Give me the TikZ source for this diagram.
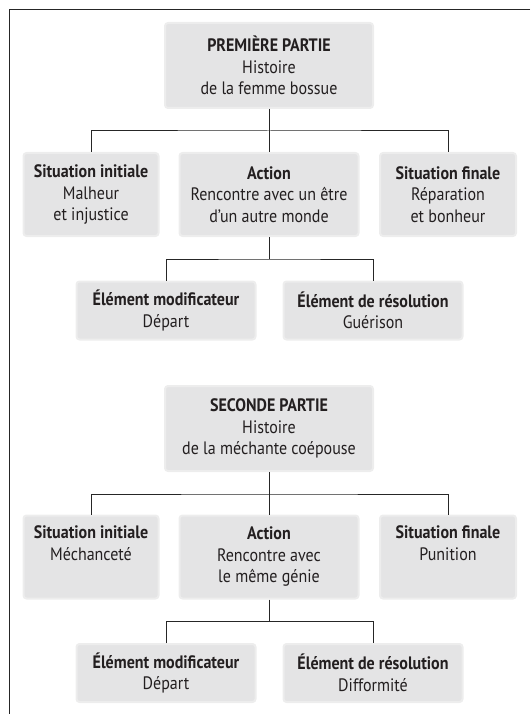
\documentclass[tikz,border=0pt]{standalone}
\usepackage{fontspec}
\setmainfont{PT Sans}[FakeStretch=0.89]
\begin{document}
\begin{tikzpicture}[x=1pt,y=-1pt,
  box/.style={rounded corners=3pt, fill=boxgray, draw=haloGray, line width=2pt,
    align=center, inner sep=0pt, font=\fontsize{18}{21.5}\selectfont, text=txt},
  link/.style={draw=black!85, line width=1pt}]
\definecolor{boxgray}{HTML}{E4E4E5}
\definecolor{haloGray}{HTML}{EDEDED}
\definecolor{txt}{HTML}{231F20}
\useasboundingbox (0,0) rectangle (530,714);
\draw[line width=1.3pt, draw=black!85] (530,9.5) -- (9.5,9.5) -- (9.5,714);

% ---------- Part 1
\node[box, minimum width=208, minimum height=85] (t1) at (269,65.5)
  {\textbf{PREMIÈRE PARTIE}\\Histoire\\de la femme bossue};
\node[box, minimum width=135, minimum height=83] (a1) at (91,194.5)
  {\textbf{Situation initiale}\\Malheur\\et injustice};
\node[box, minimum width=179, minimum height=83] (b1) at (269,194.5)
  {\textbf{Action}\\Rencontre avec un être\\d’un autre monde};
\node[box, minimum width=136, minimum height=83] (c1) at (448,194.5)
  {\textbf{Situation finale}\\Réparation\\et bonheur};
\node[box, minimum width=179, minimum height=58] (d1) at (166,310.5)
  {\textbf{Élément modificateur}\\Départ};
\node[box, minimum width=179, minimum height=58] (e1) at (373,310.5)
  {\textbf{Élément de résolution}\\Guérison};
\coordinate (j1) at (269,131);
\coordinate (k1) at (269,259);
\draw[link] (t1.south) -- (b1.north);
\draw[link] (a1.north) |- (j1) -| (c1.north);
\draw[link] (b1.south) -- (k1);
\draw[link] (d1.north) |- (k1) -| (e1.north);

% ---------- Part 2
\node[box, minimum width=208, minimum height=85] (t2) at (269,428.5)
  {\textbf{SECONDE PARTIE}\\Histoire\\de la méchante coépouse};
\node[box, minimum width=135, minimum height=83] (a2) at (91,557)
  {\textbf{Situation initiale}\\Méchanceté\\\strut};
\node[box, minimum width=179, minimum height=83] (b2) at (269,557)
  {\textbf{Action}\\Rencontre avec\\le même génie};
\node[box, minimum width=136, minimum height=83] (c2) at (448,557)
  {\textbf{Situation finale}\\Punition\\\strut};
\node[box, minimum width=179, minimum height=58] (d2) at (166,673)
  {\textbf{Élément modificateur}\\Départ};
\node[box, minimum width=179, minimum height=58] (e2) at (373,673)
  {\textbf{Élément de résolution}\\Difformité};
\coordinate (j2) at (269,494);
\coordinate (k2) at (269,621.5);
\draw[link] (t2.south) -- (b2.north);
\draw[link] (a2.north) |- (j2) -| (c2.north);
\draw[link] (b2.south) -- (k2);
\draw[link] (d2.north) |- (k2) -| (e2.north);
\end{tikzpicture}
\end{document}
